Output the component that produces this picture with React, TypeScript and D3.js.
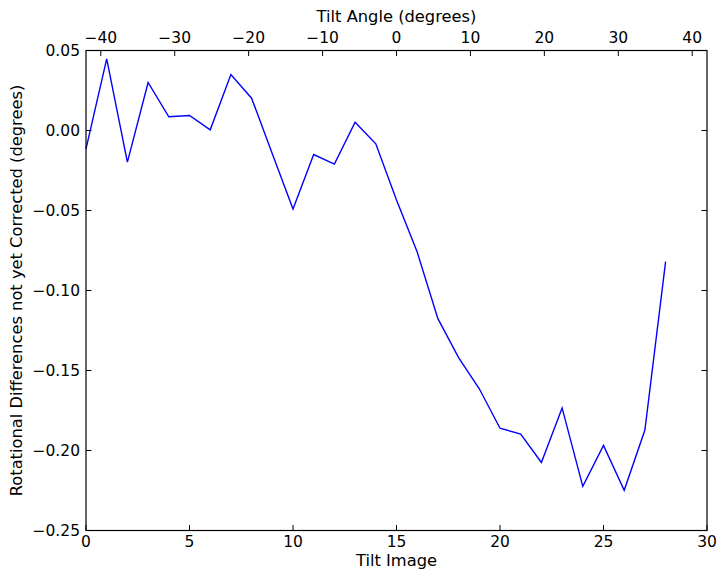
import React from "react";
import * as d3 from "d3";

const tiltImage = [0,1,2,3,4,5,6,7,8,9,10,11,12,13,14,15,16,17,18,19,20,21,22,23,24,25,26,27,28];
const rotDiff = [-0.0115,0.0448,-0.0198,0.0300,0.0086,0.0094,0.0004,0.0350,0.0202,-0.0145,-0.0491,-0.0150,-0.0210,0.0052,-0.0083,-0.0435,-0.0760,-0.1176,-0.1420,-0.1614,-0.1861,-0.1897,-0.2075,-0.1734,-0.2224,-0.1968,-0.2249,-0.1872,-0.0819];
const xTicks = [0,5,10,15,20,25,30];
const yTicks = [0.05,0.0,-0.05,-0.10,-0.15,-0.20,-0.25];
const angleTicks = [-40,-30,-20,-10,0,10,20,30,40];

const W = 725, H = 579;
const L = 86, R = 707, T = 50.5, B = 530.5;
const FONT = "'DejaVu Sans', sans-serif";
const FS = 15.5;
const LFS = 16.3;

export default function App() {
  const x = d3.scaleLinear().domain([0, 30]).range([L, R]);
  const xTop = d3.scaleLinear().domain([-42, 42]).range([L, R]);
  const y = d3.scaleLinear().domain([-0.25, 0.05]).range([B, T]);
  const line = d3.line<number>().x((_, i) => x(tiltImage[i])).y((d) => y(d));
  const tl = 5.5;
  const fmtY = (v: number) => {
    const s = Math.abs(v).toFixed(2);
    return v < -1e-9 ? "\u2212" + s : s;
  };
  const fmtA = (v: number) => (v < 0 ? "\u2212" + Math.abs(v) : String(v));
  return (
    <svg width={W} height={H} style={{ position: "absolute", left: 0, top: 0, background: "#fff" }} fontFamily={FONT} fontSize={FS}>
      <rect x={0} y={0} width={W} height={H} fill="#fff" />
      <path d={line(rotDiff) || ""} fill="none" stroke="#0000ff" strokeWidth={1.4} strokeLinejoin="miter" />
      {xTicks.map((t) => (
        <g key={"xb" + t}>
          <line x1={x(t)} x2={x(t)} y1={B} y2={B - tl} stroke="#000" strokeWidth={1} />
          <text x={x(t)} y={547} textAnchor="middle">{t}</text>
        </g>
      ))}
      {angleTicks.map((t) => (
        <g key={"xt" + t}>
          <line x1={xTop(t)} x2={xTop(t)} y1={T} y2={T + tl} stroke="#000" strokeWidth={1} />
          <text x={xTop(t)} y={43} textAnchor="middle">{fmtA(t)}</text>
        </g>
      ))}
      {yTicks.map((t) => (
        <g key={"y" + t}>
          <line x1={L} x2={L + tl} y1={y(t)} y2={y(t)} stroke="#000" strokeWidth={1} />
          <line x1={R} x2={R - tl} y1={y(t)} y2={y(t)} stroke="#000" strokeWidth={1} />
          <text x={L - 6} y={y(t)} dy="0.36em" textAnchor="end">{fmtY(t)}</text>
        </g>
      ))}
      <rect x={L} y={T} width={R - L} height={B - T} fill="none" stroke="#000" strokeWidth={1.2} />
      <text x={(L + R) / 2} y={566} textAnchor="middle" fontSize={LFS}>Tilt Image</text>
      <text x={(L + R) / 2} y={22} textAnchor="middle" fontSize={LFS}>Tilt Angle (degrees)</text>
      <text transform={`translate(21.5,${(T + B) / 2}) rotate(-90)`} textAnchor="middle" fontSize={LFS}>Rotational Differences not yet Corrected (degrees)</text>
    </svg>
  );
}
